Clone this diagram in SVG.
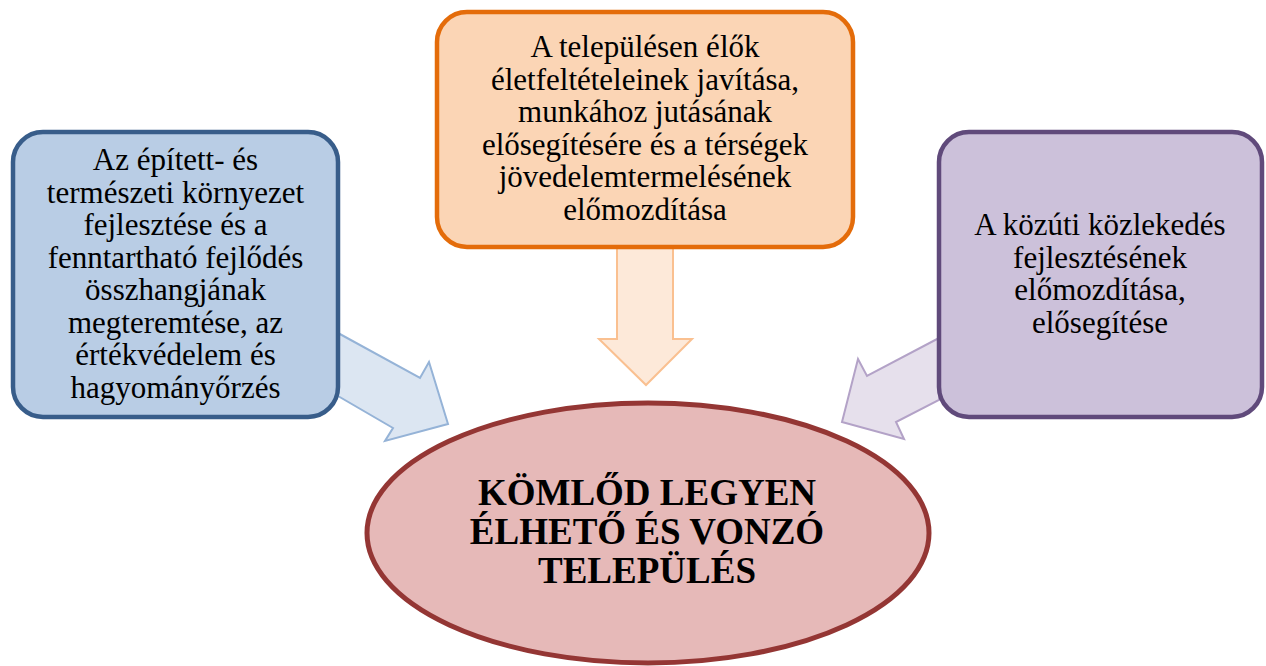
<svg xmlns="http://www.w3.org/2000/svg" width="1266" height="666" viewBox="0 0 1266 666">
<style>
.t{font-family:"Liberation Serif","Times New Roman",serif;font-size:31px;fill:#000;text-anchor:middle}
.b{font-family:"Liberation Serif","Times New Roman",serif;font-size:37px;font-weight:bold;fill:#000;text-anchor:middle}
.box{stroke-width:4.5}
.arr{stroke-width:2;stroke-linejoin:miter}
</style>
<rect width="1266" height="666" fill="#fff"/>
<g id="connectors">
<polygon class="arr" fill="#DCE6F2" stroke="#95B3D7" points="338,333 420,378 429,362 448,424 385,441 393,428 338,396"/>
<polygon class="arr" fill="#FDE9D9" stroke="#FAC090" points="617,248 673,248 673,339 692,339 646,385 599,339 617,339"/>
<polygon class="arr" fill="#E6E0EC" stroke="#B3A2C7" points="939,338 867,376 858,359 842,422 904,439 896,422 939,400"/>
</g>
<g id="center">
<ellipse cx="648" cy="533" rx="281" ry="130" fill="#E6B9B8" stroke="#943634" stroke-width="5"/>
<text class="b" x="647" y="505">KÖMLŐD LEGYEN</text>
<text class="b" x="647" y="544">ÉLHETŐ ÉS VONZÓ</text>
<text class="b" x="647" y="583">TELEPÜLÉS</text>
</g>
<g id="left">
<rect class="box" x="13" y="132" width="325" height="285" rx="30" fill="#B9CDE5" stroke="#385D8A"/>
<text class="t" x="175.5" y="170">Az épített- és</text>
<text class="t" x="175.5" y="202.5">természeti környezet</text>
<text class="t" x="175.5" y="235">fejlesztése és a</text>
<text class="t" x="175.5" y="267.5">fenntartható fejlődés</text>
<text class="t" x="175.5" y="300">összhangjának</text>
<text class="t" x="175.5" y="332.5">megteremtése, az</text>
<text class="t" x="175.5" y="365">értékvédelem és</text>
<text class="t" x="175.5" y="397.5">hagyományőrzés</text>
</g>
<g id="top">
<rect class="box" x="437" y="12" width="416" height="235" rx="30" fill="#FBD5B5" stroke="#E46C0A"/>
<text class="t" x="645" y="57">A településen élők</text>
<text class="t" x="645" y="89.5">életfeltételeinek javítása,</text>
<text class="t" x="645" y="122">munkához jutásának</text>
<text class="t" x="645" y="154.5">elősegítésére és a térségek</text>
<text class="t" x="645" y="187">jövedelemtermelésének</text>
<text class="t" x="645" y="219.5">előmozdítása</text>
</g>
<g id="right">
<rect class="box" x="939" y="132" width="323" height="285" rx="30" fill="#CCC1DA" stroke="#604A7B"/>
<text class="t" x="1100" y="235">A közúti közlekedés</text>
<text class="t" x="1100" y="267.5">fejlesztésének</text>
<text class="t" x="1100" y="300">előmozdítása,</text>
<text class="t" x="1100" y="332.5">elősegítése</text>
</g>
</svg>
